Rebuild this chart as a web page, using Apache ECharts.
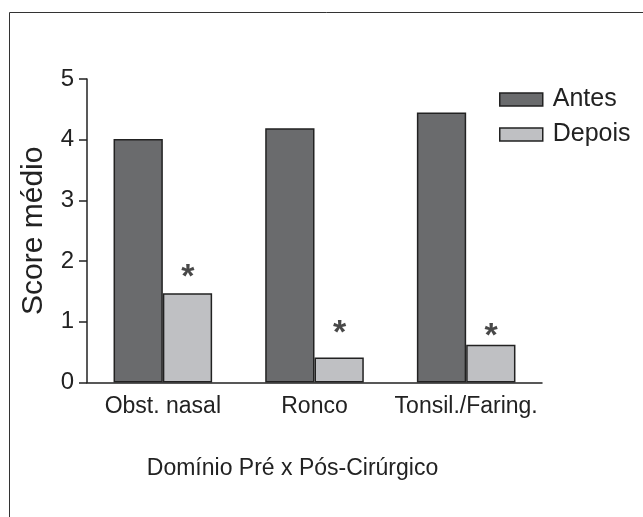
<!DOCTYPE html>
<html>
<head>
<meta charset="utf-8">
<script src="https://cdn.jsdelivr.net/npm/echarts@6/dist/echarts.min.js"></script>
<style>html,body{margin:0;padding:0;background:#fff;}#c{width:643px;height:517px;}</style>
</head>
<body>
<div id="c"></div>
<script>
var categories = ['Obst. nasal', 'Ronco', 'Tonsil./Faring.'];
var antes = [4.01, 4.19, 4.45];
var depois = [1.47, 0.41, 0.62];
var asteriskPos = [1.86, 0.93, 0.89];
var yTicks = [0, 1, 2, 3, 4, 5];

var chart = echarts.init(document.getElementById('c'), null, {renderer: 'canvas'});
var font = 'Liberation Sans, Arial, Helvetica, sans-serif';
chart.setOption({
  animation: false,
  textStyle: {fontFamily: font},
  graphic: [{
    type: 'rect', left: 7, top: 10, silent: true,
    shape: {x: 0, y: 0, width: 700, height: 600},
    style: {fill: 'none', stroke: '#333', lineWidth: 1}
  }],
  grid: {left: 87, right: 101, top: 79, bottom: 134.5, containLabel: false},
  legend: {
    left: 499, top: 87, orient: 'vertical', padding: 0,
    icon: 'rect',
    itemWidth: 43, itemHeight: 13, itemGap: 10,
    selectedMode: false,
    textStyle: {fontSize: 25, color: '#222', fontFamily: font, padding: [0, 0, 0, 5]},
    data: [{name: 'Antes', itemStyle: {color: '#6a6b6d', borderColor: '#222', borderWidth: 1.5}},
           {name: 'Depois', itemStyle: {color: '#bfc0c3', borderColor: '#222', borderWidth: 1.5}}]
  },
  xAxis: {
    type: 'category', data: categories,
    name: 'Domínio Pré x Pós-Cirúrgico', nameLocation: 'middle', nameGap: 75,
    nameTextStyle: {fontSize: 23, color: '#222', fontFamily: font, padding: [0, 44, 0, 0]},
    axisLine: {lineStyle: {color: '#222', width: 1.5}},
    axisTick: {show: false},
    axisLabel: {fontSize: 23, color: '#222', margin: 13, interval: 0, fontFamily: font}
  },
  yAxis: {
    type: 'value', min: 0, max: 5, interval: 1,
    name: 'Score médio', nameLocation: 'middle', nameGap: 38, nameRotate: 90,
    nameTextStyle: {fontSize: 30, color: '#222', fontFamily: font},
    axisLine: {show: true, lineStyle: {color: '#222', width: 1.5}},
    axisTick: {show: true, length: 8, lineStyle: {color: '#222', width: 1.5}},
    splitLine: {show: false},
    axisLabel: {fontSize: 24, color: '#222', margin: 13, fontFamily: font,
      formatter: function (v) { return yTicks.indexOf(v) >= 0 ? String(v) : ''; }}
  },
  series: [
    {name: 'Antes', type: 'bar', data: antes, barGap: '0%', barCategoryGap: '35%',
     itemStyle: {color: '#6a6b6d', borderColor: '#222', borderWidth: 1.5}},
    {name: 'Depois', type: 'bar', data: depois, barGap: '0%', barCategoryGap: '35%',
     itemStyle: {color: '#bfc0c3', borderColor: '#222', borderWidth: 1.5}},
    {name: 'sig', type: 'scatter', xAxisIndex: 0, yAxisIndex: 0,
     data: asteriskPos.map(function (v, i) { return [i, v]; }),
     symbolSize: 0, silent: true, z: 5,
     label: {show: true, position: 'inside', offset: [25, 8], formatter: '*',
       fontSize: 34, fontWeight: 'bold', color: '#1a1a1a', fontFamily: font}}
  ]
});
</script>
</body>
</html>
